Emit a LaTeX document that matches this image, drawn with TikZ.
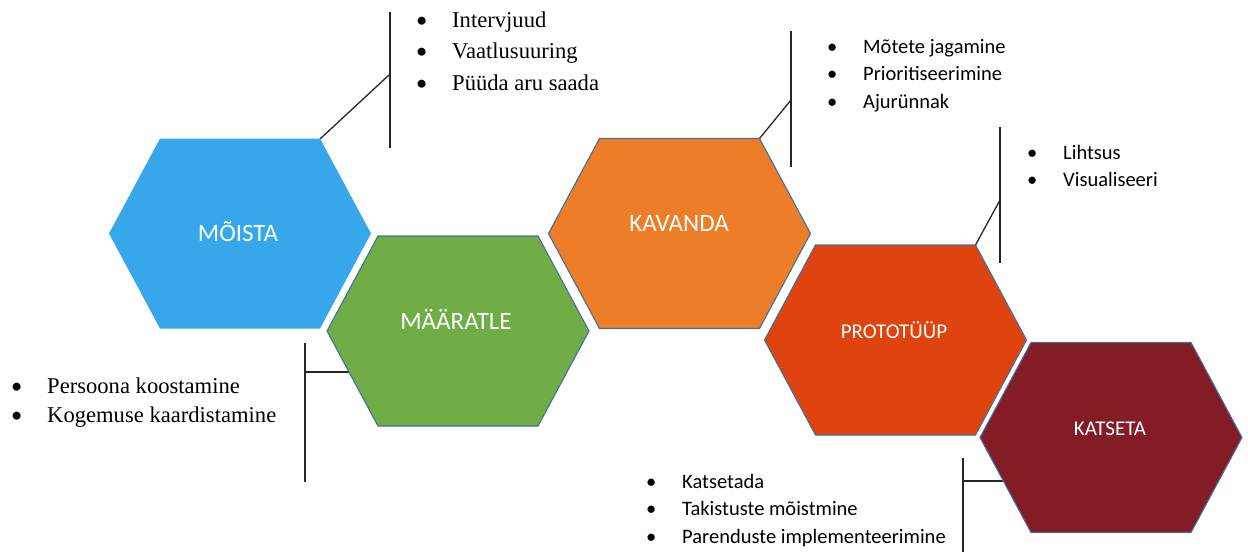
\documentclass[tikz,border=0pt]{standalone}
\usepackage{fontspec}
\setmainfont{Liberation Serif}
\newfontfamily\calfont{Carlito}
\definecolor{cblue}{HTML}{37A7EC}
\definecolor{cgreen}{HTML}{70AD47}
\definecolor{corange}{HTML}{ED7D27}
\definecolor{cred}{HTML}{E0440E}
\definecolor{cdark}{HTML}{841C26}
\definecolor{hexborder}{HTML}{41719C}
\definecolor{linegray}{HTML}{262626}
\newcommand\bul[1]{\llap{\makebox[36pt][l]{\calfont •}}#1}
\newcommand\hexshape{(-131,0) -- (-80,-95) -- (80,-95) -- (131,0) -- (80,95) -- (-80,95) -- cycle}
\begin{document}
\begin{tikzpicture}[x=1pt,y=-1pt,
  hexa/.style={draw=hexborder, line width=1.1pt, line join=miter},
  lbl/.style={text=white, font=\calfont\fontsize{25}{29}\selectfont, inner sep=0, anchor=base},
  lbls/.style={text=white, font=\calfont\fontsize{21}{25}\selectfont, inner sep=0, anchor=base},
  ser/.style={font=\fontsize{22.6}{26}\selectfont, anchor=base west, inner sep=0},
  cal/.style={font=\calfont\fontsize{20.5}{24}\selectfont, anchor=base west, inner sep=0},
  conn/.style={draw=linegray, line width=1.3pt}]
\useasboundingbox (0,0) rectangle (1248,552);

% connector coordinates
\coordinate (mTop) at (390,12);
\coordinate (mBot) at (390,148);
\coordinate (mJoin) at (389,75);
\coordinate (mHex) at (320,139);
\coordinate (dTop) at (305,343);
\coordinate (dBot) at (305,482);
\coordinate (dJoin) at (305,372);
\coordinate (dHex) at (350,372);
\coordinate (kTop) at (791,31);
\coordinate (kBot) at (791,167);
\coordinate (kJoin) at (791,100);
\coordinate (kHex) at (759.5,138.5);
\coordinate (pTop) at (1000,127);
\coordinate (pBot) at (1000,263);
\coordinate (pJoin) at (1000,200);
\coordinate (pHex) at (975.5,245);
\coordinate (tTop) at (963,458);
\coordinate (tBot) at (963,552);
\coordinate (tJoin) at (963,481);
\coordinate (tHex) at (1005,481);

\draw[conn] (mTop) -- (mBot);
\draw[conn] (mHex) -- (mJoin);
\draw[conn] (dTop) -- (dBot);
\draw[conn] (dJoin) -- (dHex);
\draw[conn] (kTop) -- (kBot);
\draw[conn] (kHex) -- (kJoin);
\draw[conn] (pTop) -- (pBot);
\draw[conn] (pHex) -- (pJoin);
\draw[conn] (tTop) -- (tBot);
\draw[conn] (tJoin) -- (tHex);

% hexagons
\fill[cblue, shift={(240,233.5)}] \hexshape;
\draw[hexa, fill=cgreen, shift={(458,331)}] \hexshape;
\draw[hexa, fill=corange, shift={(679.5,233.5)}] \hexshape;
\draw[hexa, fill=cred, shift={(895.5,340)}] \hexshape;
\draw[hexa, fill=cdark, shift={(1111,437.5)}] \hexshape;

\node[lbl] (moista) at (238,241.5) {MÕISTA};
\node[lbl] (maaratle) at (456,329) {MÄÄRATLE};
\node[lbl] (kavanda) at (679,231) {KAVANDA};
\node[lbls] (prototuup) at (894,338) {PROTOTÜÜP};
\node[lbls] (katseta) at (1110,435) {KATSETA};

% lists
\node[ser] (m1) at (452,27) {\bul{Intervjuud}};
\node[ser] (m2) at (452,58.5) {\bul{Vaatlusuuring}};
\node[ser] (m3) at (452,90) {\bul{Püüda aru saada}};

\node[ser] (d1) at (47,393) {\bul{Persoona koostamine}};
\node[ser] (d2) at (47,422) {\bul{Kogemuse kaardistamine}};

\node[cal] (k1) at (863,53.3) {\bul{Mõtete jagamine}};
\node[cal] (k2) at (863,80.8) {\bul{Prioritiseerimine}};
\node[cal] (k3) at (863,108.3) {\bul{Ajurünnak}};

\node[cal] (p1) at (1063,159.3) {\bul{Lihtsus}};
\node[cal] (p2) at (1063,186.8) {\bul{Visualiseeri}};

\node[cal] (t1) at (682,488.3) {\bul{Katsetada}};
\node[cal] (t2) at (682,515.8) {\bul{Takistuste mõistmine}};
\node[cal] (t3) at (682,543.3) {\bul{Parenduste implementeerimine}};
\end{tikzpicture}
\end{document}
